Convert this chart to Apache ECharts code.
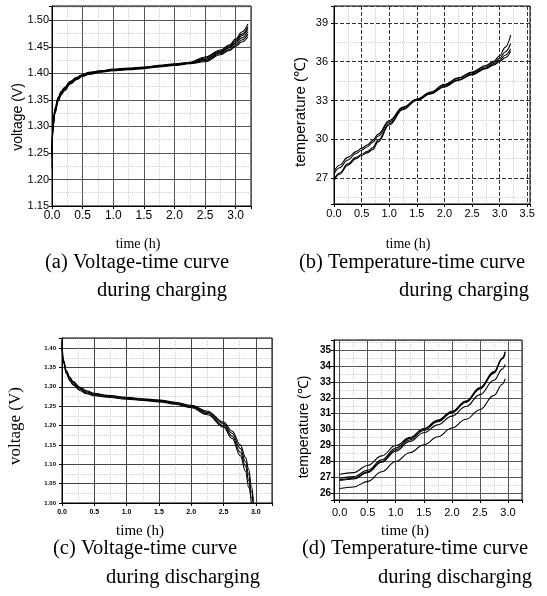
<!DOCTYPE html>
<html><head><meta charset="utf-8">
<script src="https://cdn.jsdelivr.net/npm/echarts@6.0.0/dist/echarts.min.js"></script>
<style>html,body{margin:0;padding:0;background:#fff}#c{width:547px;height:596px}</style>
</head><body><div id="c"></div>
<script>
// ---------- (a) voltage during charging ----------
const timeA = [0, 0.01, 0.02, 0.05, 0.1, 0.15, 0.2, 0.3, 0.4, 0.5, 0.6, 0.8, 1.0, 1.25, 1.5, 1.75, 2.0, 2.25, 2.5, 2.75, 2.9, 3.0, 3.1, 3.2];
const voltA1 = [1.220, 1.282, 1.301, 1.325, 1.347, 1.359, 1.367, 1.380, 1.388, 1.394, 1.398, 1.402, 1.405, 1.407, 1.409, 1.412, 1.415, 1.418, 1.422, 1.435, 1.443, 1.451, 1.459, 1.469];
const voltA2 = [1.240, 1.285, 1.303, 1.327, 1.349, 1.361, 1.369, 1.381, 1.389, 1.395, 1.399, 1.403, 1.406, 1.408, 1.410, 1.413, 1.416, 1.419, 1.424, 1.437, 1.445, 1.454, 1.463, 1.474];
const voltA3 = [1.245, 1.288, 1.305, 1.329, 1.350, 1.362, 1.370, 1.382, 1.390, 1.396, 1.400, 1.404, 1.406, 1.408, 1.410, 1.413, 1.416, 1.419, 1.426, 1.439, 1.448, 1.457, 1.467, 1.479];
const voltA4 = [1.250, 1.290, 1.307, 1.331, 1.352, 1.364, 1.371, 1.383, 1.391, 1.397, 1.401, 1.404, 1.407, 1.409, 1.411, 1.414, 1.417, 1.420, 1.427, 1.440, 1.450, 1.460, 1.471, 1.484];
const voltA5 = [1.255, 1.293, 1.309, 1.333, 1.353, 1.365, 1.372, 1.384, 1.392, 1.397, 1.401, 1.405, 1.407, 1.409, 1.411, 1.414, 1.417, 1.420, 1.429, 1.442, 1.452, 1.462, 1.474, 1.488];
const voltA6 = [1.260, 1.296, 1.311, 1.335, 1.355, 1.366, 1.373, 1.385, 1.392, 1.398, 1.402, 1.405, 1.408, 1.410, 1.412, 1.415, 1.418, 1.421, 1.431, 1.444, 1.454, 1.465, 1.478, 1.493];

// ---------- (b) temperature during charging ----------
const timeB = [0, 0.1, 0.25, 0.4, 0.5, 0.6, 0.7, 0.8, 1.0, 1.25, 1.5, 1.75, 2.0, 2.25, 2.5, 2.75, 2.9, 3.0, 3.1, 3.2];
const tempB1 = [26.8, 27.3, 28.0, 28.5, 28.75, 28.95, 29.2, 29.8, 31.1, 32.3, 33.0, 33.5, 34.05, 34.55, 35.0, 35.45, 35.75, 36.0, 36.3, 36.8];
const tempB2 = [26.9, 27.4, 28.1, 28.6, 28.85, 29.05, 29.35, 29.95, 31.2, 32.35, 33.05, 33.55, 34.1, 34.6, 35.05, 35.5, 35.85, 36.1, 36.5, 37.0];
const tempB3 = [27.3, 27.8, 28.4, 28.9, 29.15, 29.4, 29.75, 30.25, 31.35, 32.45, 33.1, 33.6, 34.2, 34.7, 35.15, 35.6, 35.95, 36.25, 36.75, 37.4];
const tempB4 = [27.5, 28.0, 28.6, 29.05, 29.3, 29.55, 29.9, 30.4, 31.45, 32.5, 33.1, 33.65, 34.25, 34.75, 35.2, 35.7, 36.05, 36.45, 37.1, 38.05];

// ---------- (c) voltage during discharging ----------
const timeC = [0, 0.02, 0.07, 0.12, 0.17, 0.28, 0.38, 0.5, 0.7, 1.0, 1.25, 1.5, 1.75, 2.0, 2.25, 2.5, 2.63, 2.76, 2.84, 2.89, 2.93, 2.96];
const voltC1 = [1.42, 1.364, 1.333, 1.316, 1.305, 1.290, 1.282, 1.277, 1.273, 1.268, 1.265, 1.261, 1.255, 1.246, 1.228, 1.196, 1.167, 1.122, 1.082, 1.040, 1.000];
const voltC2 = [1.42, 1.366, 1.336, 1.319, 1.308, 1.293, 1.284, 1.279, 1.275, 1.270, 1.266, 1.263, 1.257, 1.248, 1.231, 1.200, 1.173, 1.131, 1.095, 1.058, 1.015, 1.000];
const voltC3 = [1.41, 1.368, 1.339, 1.322, 1.311, 1.296, 1.287, 1.281, 1.277, 1.272, 1.268, 1.265, 1.259, 1.250, 1.234, 1.205, 1.180, 1.141, 1.107, 1.073, 1.030, 1.002];
const voltC4 = [1.40, 1.370, 1.342, 1.325, 1.314, 1.299, 1.290, 1.283, 1.278, 1.273, 1.269, 1.266, 1.260, 1.252, 1.237, 1.209, 1.186, 1.150, 1.118, 1.087, 1.045, 1.008];

// ---------- (d) temperature during discharging ----------
const timeD = [0, 0.25, 0.5, 0.75, 1.0, 1.25, 1.5, 1.75, 2.0, 2.25, 2.5, 2.75, 2.9, 2.95];
const tempD1 = [26.85, 26.95, 27.35, 28.0, 28.75, 29.35, 29.95, 30.5, 31.05, 31.7, 32.55, 33.55, 34.45, 34.9];
const tempD2 = [26.95, 27.05, 27.45, 28.1, 28.85, 29.45, 30.05, 30.6, 31.15, 31.8, 32.65, 33.65, 34.45, 34.75];
const tempD3 = [27.2, 27.3, 27.75, 28.35, 29.0, 29.5, 30.05, 30.55, 31.1, 31.75, 32.6, 33.6, 34.5, 34.85];
const tempD4 = [26.8, 26.9, 27.3, 27.95, 28.65, 29.25, 29.8, 30.3, 30.85, 31.45, 32.2, 33.1, 33.8, 34.1];
const tempD5 = [26.3, 26.4, 26.75, 27.35, 28.0, 28.55, 29.05, 29.55, 30.1, 30.65, 31.25, 32.15, 32.85, 33.2];

// ---------- texts ----------
const yNames = ['voltage (V)', 'temperature (\u2103)', 'voltage (V)', 'temperature (\u2103)'];
const xName = 'time (h)';
const captions = [
  ['(a) Voltage-time curve', 'during charging'],
  ['(b) Temperature-time curve', 'during charging'],
  ['(c) Voltage-time curve', 'during discharging'],
  ['(d) Temperature-time curve', 'during discharging']
];

const SANS = '"Liberation Sans", Arial, sans-serif';
const SERIF = '"Liberation Serif", "Times New Roman", serif';

function zip(t, v) { return v.map((y, i) => [t[i], y]); }
function isMult(v, s) { const q = v / s; return Math.abs(q - Math.round(q)) < 1e-6; }

function axis(gi, min, max, step, digits, lab, major, minor) {
  return {
    type: 'value', gridIndex: gi, min: min, max: max,
    minInterval: step, maxInterval: step,
    splitNumber: Math.max(1, Math.round((max - min) / step)),
    axisLine: { show: true, onZero: false, lineStyle: { color: '#000', width: 1 } },
    axisTick: { show: true, length: 3, lineStyle: { color: '#000', width: 1 } },
    axisLabel: Object.assign({
      color: '#000', fontFamily: SANS,
      formatter: v => isMult(v, step) ? v.toFixed(digits) : ''
    }, lab),
    splitLine: { show: true, lineStyle: major },
    minorTick: { show: false, splitNumber: 2 },
    minorSplitLine: { show: true, lineStyle: minor }
  };
}

const gridBase = { show: true, borderColor: '#000', borderWidth: 1, backgroundColor: 'transparent', containLabel: false };
const grids = [
  Object.assign({ left: 52, top: 6, width: 199, height: 200 }, gridBase),
  Object.assign({ left: 334, top: 6, width: 196, height: 198 }, gridBase),
  Object.assign({ left: 62, top: 338, width: 210, height: 165 }, gridBase),
  Object.assign({ left: 334, top: 340, width: 188, height: 160 }, gridBase)
];

const minorDot = { color: '#999', type: 'dotted', width: 1, opacity: 0.45 };
const solidMajor = { color: '#555', width: 1 };
const dashMajor = { color: '#333', width: 1, type: [4, 2] };

const xAxes = [
  axis(0, 0, 3.25, 0.5, 1, { fontSize: 12, margin: 4 }, solidMajor, minorDot),
  axis(1, 0, 3.55, 0.5, 1, { fontSize: 11, margin: 4 }, dashMajor, minorDot),
  axis(2, 0, 3.25, 0.5, 1, { fontSize: 7, fontWeight: 'bold', margin: 6 }, { color: '#444', width: 1 }, minorDot),
  axis(3, -0.1, 3.25, 0.5, 1, { fontSize: 11, margin: 7 }, solidMajor, minorDot)
];
const yAxes = [
  axis(0, 1.15, 1.527, 0.05, 2, { fontSize: 11, margin: 3 }, solidMajor, minorDot),
  axis(1, 25, 40.3, 3, 0, { fontSize: 11, margin: 6 }, dashMajor, minorDot),
  axis(2, 1.0, 1.426, 0.05, 2, { fontSize: 6, fontWeight: 'bold', margin: 6 }, { color: '#444', width: 1 }, minorDot),
  axis(3, 25.58, 35.63, 1, 0, { fontSize: 10, fontWeight: 'bold', margin: 3 }, solidMajor, minorDot)
];

function line(gi, t, v) {
  return {
    type: 'line', xAxisIndex: gi, yAxisIndex: gi, data: zip(t, v),
    symbol: 'none', smooth: 0.4, smoothMonotone: 'x', clip: true,
    lineStyle: { color: '#000', width: 1.1 }, silent: true, animation: false
  };
}

const series = [
  line(0, timeA, voltA1), line(0, timeA, voltA2), line(0, timeA, voltA3),
  line(0, timeA, voltA4), line(0, timeA, voltA5), line(0, timeA, voltA6),
  line(1, timeB, tempB1), line(1, timeB, tempB2), line(1, timeB, tempB3), line(1, timeB, tempB4),
  line(2, timeC, voltC1), line(2, timeC, voltC2), line(2, timeC, voltC3), line(2, timeC, voltC4),
  line(3, timeD, tempD1), line(3, timeD, tempD2), line(3, timeD, tempD3), line(3, timeD, tempD4), line(3, timeD, tempD5)
];

function txt(text, x, y, size, family, align, rot) {
  return {
    type: 'text', x: x, y: y, rotation: rot || 0, silent: true,
    style: {
      text: text, fontSize: size, fontFamily: family, fill: '#000',
      textAlign: align, textVerticalAlign: 'middle', align: align, verticalAlign: 'middle'
    }
  };
}
const R = Math.PI / 2;
const CAP = 20.5;
const graphics = [
  txt(yNames[0], 18, 117, 14, SANS, 'center', R),
  txt(yNames[1], 301, 112, 15, SANS, 'center', R),
  txt(yNames[2], 16, 426, 17, SERIF, 'center', R),
  txt(yNames[3], 304, 427, 14, SANS, 'center', R),
  txt(xName, 138, 244, 14, SERIF, 'center'),
  txt(xName, 408, 244, 14, SERIF, 'center'),
  txt(xName, 140, 531, 15, SERIF, 'center'),
  txt(xName, 405, 531, 15, SERIF, 'center'),
  txt(captions[0][0], 45, 263, CAP, SERIF, 'left'),
  txt(captions[0][1], 97, 291, CAP, SERIF, 'left'),
  txt(captions[1][0], 299, 263, CAP, SERIF, 'left'),
  txt(captions[1][1], 399, 291, CAP, SERIF, 'left'),
  txt(captions[2][0], 53, 549, CAP, SERIF, 'left'),
  txt(captions[2][1], 106, 578, CAP, SERIF, 'left'),
  txt(captions[3][0], 302, 549, CAP, SERIF, 'left'),
  txt(captions[3][1], 378, 578, CAP, SERIF, 'left')
];

const chart = echarts.init(document.getElementById('c'), null, { renderer: 'canvas' });
chart.setOption({
  backgroundColor: '#fff',
  animation: false,
  grid: grids,
  xAxis: xAxes,
  yAxis: yAxes,
  series: series,
  graphic: graphics
});
</script>
</body></html>
